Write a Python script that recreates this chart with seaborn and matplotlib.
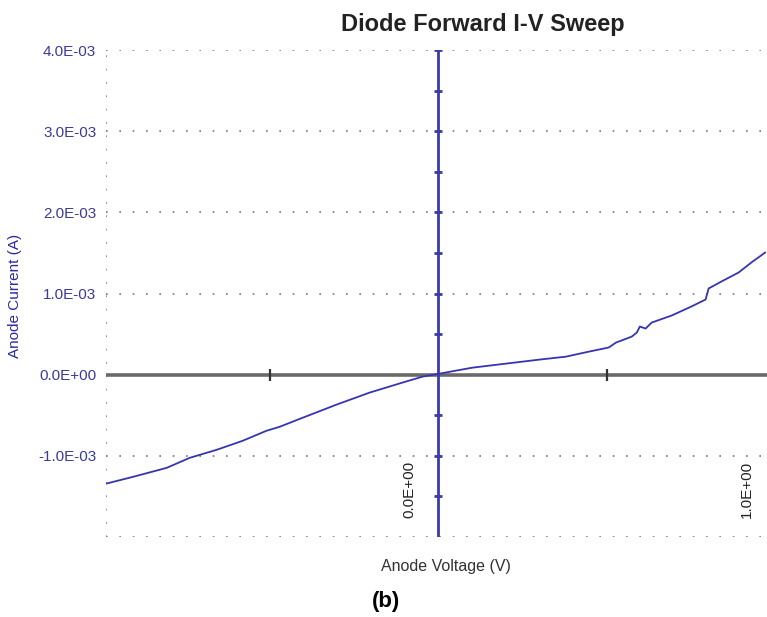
import numpy as np
import pandas as pd
import matplotlib
matplotlib.use("Agg")
import matplotlib.pyplot as plt
import seaborn as sns

voltage = [-0.988, -0.905, -0.805, -0.737, -0.657, -0.580, -0.509, -0.470,
           -0.402, -0.302, -0.204, -0.107, -0.047, 0.003, 0.101, 0.201,
           0.299, 0.379, 0.447, 0.506, 0.527, 0.574, 0.589, 0.598, 0.615,
           0.633, 0.692, 0.751, 0.793, 0.802, 0.840, 0.891, 0.929, 0.970]
current_mA = [-1.346, -1.259, -1.148, -1.025, -0.926, -0.815, -0.691, -0.642,
              -0.531, -0.370, -0.222, -0.099, -0.025, 0.012, 0.086, 0.136,
              0.185, 0.222, 0.284, 0.335, 0.395, 0.469, 0.519, 0.593, 0.568,
              0.642, 0.728, 0.840, 0.926, 1.062, 1.148, 1.259, 1.383, 1.506]
current = [c * 1e-3 for c in current_mA]

y_ticks = [-1e-3, 0.0, 1e-3, 2e-3, 3e-3, 4e-3]
grid_y = [-2e-3, -1e-3, 1e-3, 2e-3, 3e-3, 4e-3]
x_label_vals = [0.0, 1.0]
zero_line_ticks = [-0.5, 0.5]
vaxis_ticks = [-1.5e-3, -1e-3, -0.5e-3, 0.5e-3, 1e-3, 1.5e-3, 2e-3, 2.5e-3,
               3e-3, 3.5e-3, 4e-3]

df = pd.DataFrame({"V": voltage, "I": current})

sns.set_style("white")
plt.rcParams["font.family"] = ["Liberation Sans", "DejaVu Sans"]

fig = plt.figure(figsize=(7.67, 6.17), dpi=100)
W, H = 767, 617
ax = fig.add_axes([106 / W, 1 - 537 / H, (767 - 106) / W, (537 - 50) / H])

blue = "#3b3ba6"
dot = (0, (1, 7.0))

# dotted grid + frame
for g in grid_y:
    ax.axhline(g, color="#777777", lw=1.2, ls=dot, zorder=1)
ax.axvline(-0.985, color="#777777", lw=1.2, ls=(0, (1, 7.0)), zorder=1)

# zero lines
ax.axhline(0, color="#6a6a6a", lw=2.6, zorder=2)
ax.axvline(0, color=blue, lw=2.0, zorder=3)
ax.plot(zero_line_ticks, [0] * len(zero_line_ticks), ls="none", marker="|",
        ms=9, mew=1.6, color="#333333", zorder=3)
ax.plot([0] * len(vaxis_ticks), vaxis_ticks, ls="none", marker="_",
        ms=6, mew=2, color=blue, zorder=3)

sns.lineplot(data=df, x="V", y="I", ax=ax, color="#3535b0", lw=1.3,
             sort=False, zorder=4)

ax.set_xlim(-0.985, 0.975)
ax.set_ylim(-2e-3, 4e-3)
ax.set_yticks(y_ticks)
ax.set_yticklabels([f"{v:.1E}" for v in y_ticks], color="#3a3a9a", fontsize=11)
ax.tick_params(axis="y", length=0, pad=7)
ax.set_xticks([])
ax.set_xlabel("")
ax.set_ylabel("")
for s in ax.spines.values():
    s.set_visible(False)

for v in x_label_vals:
    ax.text(v - 0.085, -1.77e-3, f"{v:.1E}", rotation=90, ha="center",
            va="bottom", fontsize=11, color="#222222")

fig.text(483 / W, 1 - 25 / H, "Diode Forward I-V Sweep", ha="center",
         va="center", fontsize=17, fontweight="bold", color="#222222")
fig.text(15 / W, 1 - 296 / H, "Anode Current (A)", rotation=90, ha="center",
         va="center", fontsize=11, color="#2a2aa0")
fig.text(446 / W, 1 - 566 / H, "Anode Voltage (V)", ha="center", va="center",
         fontsize=11.5, color="#333333")
fig.text(386 / W, 1 - 602 / H, "(b)", ha="center", va="center", fontsize=16,
         fontweight="bold", color="black")

fig.savefig("out.png", dpi=100)
